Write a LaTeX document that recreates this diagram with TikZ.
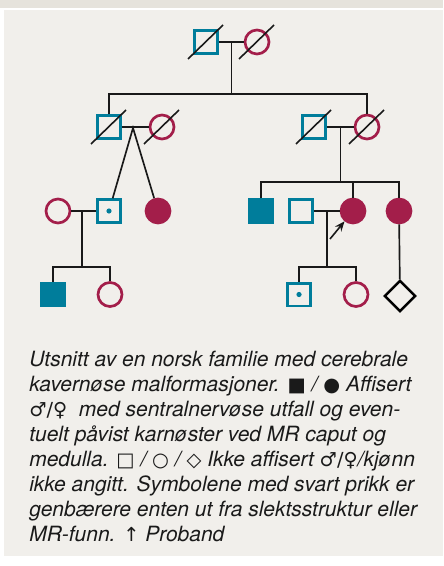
\documentclass[tikz,border=0pt]{standalone}
\usepackage{fontspec}
\setmainfont{TeX Gyre Heros}
\newfontfamily\symfont{DejaVu Sans}
\usetikzlibrary{shapes.geometric,arrows.meta}
\definecolor{panelbg}{RGB}{241,239,235}
\definecolor{stripbg}{RGB}{230,227,220}
\definecolor{malecol}{RGB}{0,125,155}
\definecolor{femcol}{RGB}{163,30,74}
\definecolor{captext}{RGB}{26,26,26}
\newcommand{\sy}[1]{{\symfont\upshape\fontsize{14.5pt}{18.75pt}\selectfont #1}}

\begin{document}
\begin{tikzpicture}[x=0.75pt,y=0.75pt,yscale=-1,xscale=1,
  male/.style={rectangle,draw=malecol,line width=2pt,minimum size=17pt,inner sep=0pt},
  female/.style={circle,draw=femcol,line width=2pt,minimum size=18pt,inner sep=0pt},
  affm/.style={male,fill=malecol},
  afff/.style={female,fill=femcol},
  unknown/.style={diamond,draw=black,line width=1.8pt,minimum size=23.5pt,inner sep=0pt},
  link/.style={draw=black!90,line width=1.25pt},
  dead/.style={draw=black!90,line width=1.2pt},
  proband/.style={draw=black!90,line width=1.2pt,-{Stealth[length=7.5pt,width=6pt,inset=2.5pt]}}]
\useasboundingbox (0,0) rectangle (443,566);

%Shape: Background
\fill[stripbg] (0,0) rectangle (443,8);
\fill[panelbg] (4,10) rectangle (443,556);

%Generation I
\node[male] (gIm) at (206,42) {};
\node[female] (gIf) at (257,42) {};
%Generation II
\node[male] (gIIam) at (109,127) {};
\node[female] (gIIaf) at (162,127) {};
\node[male] (gIIbm) at (314,127) {};
\node[female] (gIIbf) at (367,127) {};
%Generation III
\node[female] (gIIIaf) at (58,211) {};
\node[male] (gIIIam) at (109,211) {};
\node[afff] (gIIIbf) at (158,211) {};
\node[affm] (gIIIcm) at (261,211) {};
\node[male] (gIIIdm) at (301,211) {};
\node[afff] (gIIIcf) at (353,211) {};
\node[afff] (gIIIdf) at (399,211) {};
%Generation IV
\node[affm] (gIVam) at (53,294.5) {};
\node[female] (gIVaf) at (110,294.5) {};
\node[male] (gIVbm) at (299,294.5) {};
\node[female] (gIVbf) at (356,294.5) {};
\node[unknown] (gIVc) at (400,296) {};

%Shape: Carrier dots
\fill[malecol] (gIIIam) circle (2.6);
\fill[malecol] (gIVbm) circle (2.6);

%Shape: Deceased slashes
\foreach \n in {gIm,gIf,gIIam,gIIaf,gIIbm,gIIbf}
  \draw[dead] (\n) ++(-18,17) -- ++(35,-34);

%Shape: Marriages and sibships
\coordinate (mI) at (231.5,43);
\coordinate (sI) at (231.5,94);
\draw[link] (gIm) -- (gIf);
\draw[link] (mI) -- (sI);
\draw[link] (gIIam) |- (sI) -| (gIIbf);

\coordinate (twin) at (133,128);
\draw[link] (gIIam) -- (gIIaf);
\draw[link] (gIIIam) -- (twin) -- (gIIIbf);

\coordinate (mIIb) at (340.5,128);
\coordinate (sIIb) at (340.5,182);
\draw[link] (gIIbm) -- (gIIbf);
\draw[link] (mIIb) -- (sIIb);
\draw[link] (gIIIcm) |- (sIIb) -| (gIIIdf);
\draw[link] (gIIIcf) |- (sIIb);

\coordinate (mIIIa) at (82,211);
\coordinate (sIIIa) at (82,267);
\draw[link] (gIIIaf) -- (gIIIam);
\draw[link] (mIIIa) -- (sIIIa);
\draw[link] (gIVam) |- (sIIIa) -| (gIVaf);

\coordinate (mIIId) at (327,211);
\coordinate (sIIId) at (327,267);
\draw[link] (gIIIdm) -- (gIIIcf);
\draw[link] (mIIId) -- (sIIId);
\draw[link] (gIVbm) |- (sIIId) -| (gIVbf);
\draw[link] (gIIIdf) -- (gIVc);

%Shape: Proband arrow
\coordinate (pb) at (330,239);
\draw[proband] (pb) -- (gIIIcf);

% Text Node
\node[anchor=north west,inner sep=0pt,align=left,text=captext,
  font=\fontsize{15.75pt}{18.75pt}\selectfont\itshape] (caption) at (29,351)
  {Utsnitt av en norsk familie med cerebrale\\
   kavernøse malformasjoner. \sy{■} / \sy{●} Affisert\\
   \sy{♂/♀}\ \ med sentralnervøse utfall og even-\\
   tuelt påvist karnøster ved MR caput og\\
   medulla. \sy{□} / \sy{○} / \sy{◇} Ikke affisert \sy{♂/♀}/kjønn\\
   ikke angitt. Symbolene med svart prikk er\\
   genbærere enten ut fra slektsstruktur eller\\
   MR-funn. \sy{↑} Proband};
\end{tikzpicture}
\end{document}
